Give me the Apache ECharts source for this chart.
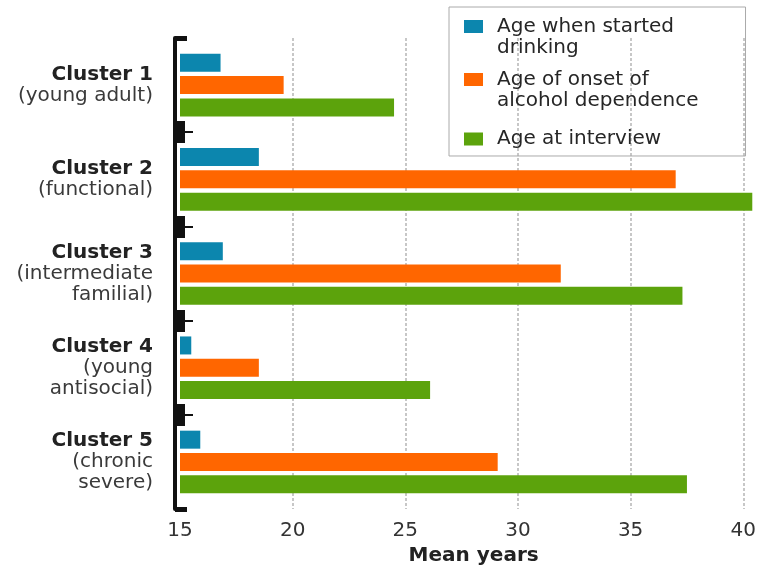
<!DOCTYPE html>
<html>
<head>
<meta charset="utf-8">
<script src="https://cdn.jsdelivr.net/npm/echarts@6/dist/echarts.min.js"></script>
<style>
  html, body { margin: 0; padding: 0; background: #fff; }
  #chart { width: 759px; height: 571px; }
</style>
</head>
<body>
<div id="chart"></div>
<script>
// ---- data ----
const clusterNames = ['Cluster 1', 'Cluster 2', 'Cluster 3', 'Cluster 4', 'Cluster 5'];
const clusterDescs = ['(young adult)', '(functional)', '(intermediate\nfamilial)', '(young\nantisocial)', '(chronic\nsevere)'];
const seriesNames = ['Age when started\ndrinking', 'Age of onset of\nalcohol dependence', 'Age at interview'];
const ageStartedDrinking = [16.8, 18.5, 16.9, 15.5, 15.9];
const ageOnsetDependence = [19.6, 37.0, 31.9, 18.5, 29.1];
const ageAtInterview = [24.5, 40.4, 37.3, 26.1, 37.5];
const xMin = 15, xMax = 40, xStep = 5;
const axisName = 'Mean years';
const colors = ['#0c86ae', '#ff6600', '#5ca30c'];
// structural keys for the bracket marks on the category axis (cluster boundaries)
const boundaryKeys = ['b0', 'b1', 'b2', 'b3', 'b4', 'b5'];

const FONT = 'DejaVu Sans';
const chart = echarts.init(document.getElementById('chart'), null, { renderer: 'canvas' });

function labelFormatter(value, index) {
  const lines = clusterDescs[index].split('\n').map(l => '{n|' + l + '}');
  return '{b|' + clusterNames[index] + '}\n' + lines.join('\n');
}

const iconTwo = 'path://M0,0L19,0L19,13L0,13Z M28,34L28.01,34';
const iconOne = 'path://M0,10.5L19,10.5L19,23.5L0,23.5Z M0,0L0.01,0 M28,34L28.01,34';

function decoAxis(interval, length, width) {
  return {
    type: 'category', data: boundaryKeys, boundaryGap: false, inverse: true,
    position: 'left', offset: 5, gridIndex: 0,
    axisLine: { show: false }, axisLabel: { show: false }, splitLine: { show: false },
    axisTick: { show: true, inside: true, length: length, interval: interval,
      lineStyle: { color: '#111', width: width } }
  };
}

const option = {
  animation: false,
  textStyle: { fontFamily: FONT },
  color: colors,
  grid: { left: 180, right: 13, top: 38, bottom: 57 },
  legend: {
    orient: 'vertical', left: 449, top: 7,
    padding: [9, 47, 0, 15],
    itemGap: 11, itemWidth: 28, itemHeight: 34,
    borderColor: '#aaa', borderWidth: 1,
    selectedMode: false,
    itemStyle: { borderWidth: 0 },
    textStyle: { fontFamily: FONT, fontSize: 20, lineHeight: 21, color: '#262626' },
    data: seriesNames.map((n, i) => ({ name: n, icon: i < 2 ? iconTwo : iconOne }))
  },
  xAxis: {
    type: 'value', min: xMin, max: xMax, interval: xStep, startValue: xMin,
    axisLine: { show: false }, axisTick: { show: false },
    axisLabel: { fontFamily: FONT, fontSize: 20, color: '#333', margin: 12 },
    splitLine: { show: true, showMinLine: false,
      lineStyle: { color: '#b5b5b5', width: 1.5, type: [3, 2] } },
    name: axisName, nameLocation: 'middle', nameGap: 34,
    nameTextStyle: { fontFamily: FONT, fontSize: 20, fontWeight: 'bold', color: '#222', padding: [0, 0, 0, 24] }
  },
  yAxis: [
    {
      type: 'category', data: clusterNames, inverse: true, position: 'left', offset: 5,
      axisLine: { show: true, lineStyle: { color: '#111', width: 4 } },
      axisTick: { show: false },
      axisLabel: {
        margin: 22, formatter: labelFormatter, align: 'right',
        rich: {
          b: { fontFamily: FONT, fontSize: 20, fontWeight: 'bold', color: '#222', lineHeight: 21, align: 'right' },
          n: { fontFamily: FONT, fontSize: 20, color: '#3a3a3a', lineHeight: 21, align: 'right' }
        }
      },
      splitLine: { show: false }
    },
    decoAxis((i) => i > 0 && i < 5, 10, 22),
    decoAxis((i) => i > 0 && i < 5, 18, 2),
    decoAxis((i) => i === 0 || i === 5, 12, 5)
  ],
  series: [ageStartedDrinking, ageOnsetDependence, ageAtInterview].map((d, i) => ({
    name: seriesNames[i], type: 'bar', yAxisIndex: 0, data: d,
    barWidth: 18, barGap: '24%', clip: false,
    itemStyle: { color: colors[i] }
  }))
};
chart.setOption(option);
</script>
</body>
</html>
